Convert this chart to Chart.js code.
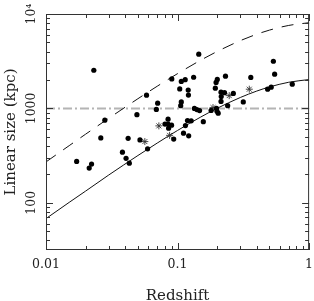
<!DOCTYPE html>
<html>
<head>
<meta charset="utf-8">
<script src="https://cdn.jsdelivr.net/npm/chart.js@4.4.1/dist/chart.umd.min.js"></script>
<style>
  html, body { margin: 0; padding: 0; background: #fff; }
  #wrap { width: 314px; height: 301px; }
</style>
</head>
<body>
<div id="wrap"><canvas id="chart" width="314" height="301"></canvas></div>
<script>
// Linear size vs redshift

// filled dots
const dotZ = [0.0231, 0.0280, 0.0261, 0.0421, 0.0381, 0.0406, 0.0430, 0.0171, 0.0222, 0.0213,
    0.0592, 0.0581, 0.0706, 0.0690, 0.0491, 0.0518,
    0.145, 0.0904, 0.1068, 0.1143, 0.1325, 0.1039, 0.1205, 0.121, 0.1068, 0.1057, 0.1343, 0.1403, 0.147,
    0.0802, 0.0847, 0.0847, 0.0901, 0.0855, 0.0935, 0.111, 0.1215, 0.1148, 0.119, 0.127, 0.157,
    0.180, 0.1977, 0.1995, 0.2037, 0.1937, 0.1963, 0.2005, 0.2314, 0.214, 0.2275, 0.2148, 0.214,
    0.2404, 0.2655, 0.316, 0.3605, 0.484, 0.515, 0.535, 0.547, 0.745];
const dotL = [2535, 750, 487, 482, 344, 296, 263, 274, 257, 233,
    373, 1380, 1135, 976, 858, 464,
    3756, 2051, 1931, 2013, 2138, 1608, 1562, 1383, 1172, 1068, 1000, 971, 948,
    682, 769, 682, 664, 617, 473, 547, 512, 658, 743, 738, 723,
    952, 1000, 930, 890, 1636, 1884, 2027, 2197, 1484, 1466, 1333, 1186,
    1068, 1442, 1172, 2128, 1600, 1680, 3159, 2306, 1804];

// asterisks
const starZ = [0.0564, 0.0721, 0.0870, 0.186, 0.247, 0.351];
const starL = [445, 653, 518, 1020, 1366, 1597];

// model curves
const curveZ = [0.01, 0.015, 0.02, 0.03, 0.05, 0.07, 0.1, 0.15, 0.2, 0.3, 0.4, 0.5, 0.7, 1];
const solidL = [68, 101, 133, 197, 317, 429, 584, 810, 1002, 1305, 1526, 1688, 1892, 2021];
const dashedL = [271, 403, 533, 786, 1267, 1716, 2335, 3240, 4008, 5220, 6104, 6752, 7568, 8084];

// 1 Mpc reference line
const refZ = [0.01, 1];
const refL = [1000, 1000];

// axes
const xMajor = [0.01, 0.1, 1];
const xLabels = ['0.01', '0.1', '1'];
const xMinor = [0.02, 0.03, 0.04, 0.05, 0.06, 0.07, 0.08, 0.09, 0.2, 0.3, 0.4, 0.5, 0.6, 0.7, 0.8, 0.9];
const yMajor = [100, 1000, 10000];
const yLabels = ['100', '1000', '10⁴'];
const yMinor = [40, 50, 60, 70, 80, 90, 200, 300, 400, 500, 600, 700, 800, 900,
    2000, 3000, 4000, 5000, 6000, 7000, 8000, 9000];

const FONT = '"DejaVu Serif", "Liberation Serif", serif';
const INK = '#222';

const toPoints = (xs, ys) => xs.map((x, i) => ({ x, y: ys[i] }));

// frame with inward ticks on all four sides, plus tick labels
const frameTicks = {
    id: 'frameTicks',
    afterDatasetsDraw(chart) {
        const { ctx, chartArea: a, scales: { x, y } } = chart;
        ctx.save();
        ctx.strokeStyle = '#333';
        ctx.lineWidth = 1;
        ctx.strokeRect(a.left + 0.5, a.top + 0.5, a.right - a.left - 1, a.bottom - a.top - 1);

        const xTick = (v, len) => {
            const px = Math.round(x.getPixelForValue(v)) + 0.5;
            ctx.beginPath();
            ctx.moveTo(px, a.bottom);
            ctx.lineTo(px, a.bottom - len);
            ctx.moveTo(px, a.top);
            ctx.lineTo(px, a.top + len);
            ctx.stroke();
        };
        const yTick = (v, len) => {
            const py = Math.round(y.getPixelForValue(v)) + 0.5;
            ctx.beginPath();
            ctx.moveTo(a.left, py);
            ctx.lineTo(a.left + len, py);
            ctx.moveTo(a.right, py);
            ctx.lineTo(a.right - len, py);
            ctx.stroke();
        };
        xMinor.forEach(v => xTick(v, 4));
        xMajor.forEach(v => xTick(v, 7));
        yMinor.forEach(v => yTick(v, 4));
        yMajor.forEach(v => yTick(v, 7));

        ctx.fillStyle = INK;
        ctx.font = '12.5px ' + FONT;
        ctx.textAlign = 'center';
        ctx.textBaseline = 'middle';
        xMajor.forEach((v, i) => {
            ctx.fillText(xLabels[i], x.getPixelForValue(v), a.bottom + 15);
        });
        yMajor.forEach((v, i) => {
            ctx.save();
            ctx.translate(a.left - 14, y.getPixelForValue(v));
            ctx.rotate(-Math.PI / 2);
            ctx.fillText(yLabels[i], 0, 0);
            ctx.restore();
        });
        ctx.restore();
    }
};

const ctx = document.getElementById('chart').getContext('2d');

new Chart(ctx, {
    type: 'scatter',
    data: {
        datasets: [
            {
                label: 'sources',
                data: toPoints(dotZ, dotL),
                pointRadius: 2.6,
                pointBorderWidth: 0,
                backgroundColor: '#000',
                borderColor: '#000'
            },
            {
                label: 'asterisks',
                data: toPoints(starZ, starL),
                pointStyle: 'star',
                pointRadius: 3.5,
                pointBorderWidth: 0.9,
                borderColor: '#333',
                backgroundColor: 'rgba(0,0,0,0)'
            },
            {
                label: 'solid',
                data: toPoints(curveZ, solidL),
                showLine: true,
                pointRadius: 0,
                borderColor: '#111',
                borderWidth: 1,
                cubicInterpolationMode: 'monotone'
            },
            {
                label: 'dashed',
                data: toPoints(curveZ, dashedL),
                showLine: true,
                pointRadius: 0,
                borderColor: '#111',
                borderWidth: 1,
                borderDash: [12, 9],
                cubicInterpolationMode: 'monotone'
            },
            {
                label: '1 Mpc',
                data: toPoints(refZ, refL),
                showLine: true,
                pointRadius: 0,
                borderColor: '#b4b4b4',
                borderWidth: 2,
                borderDash: [9, 3, 2, 3]
            }
        ]
    },
    options: {
        responsive: false,
        animation: false,
        layout: { padding: { top: 14, right: 3, left: 0, bottom: 0 } },
        plugins: {
            legend: { display: false },
            tooltip: { enabled: false }
        },
        scales: {
            x: {
                type: 'logarithmic',
                min: 0.01,
                max: 1,
                grid: { display: false },
                border: { display: false },
                ticks: { display: false },
                title: {
                    display: true,
                    text: 'Redshift',
                    color: INK,
                    font: { family: FONT, size: 15, lineHeight: 1 },
                    padding: { top: 0, bottom: -2.5 }
                },
                afterFit: scale => { scale.height = 51; }
            },
            y: {
                type: 'logarithmic',
                min: 31.62,
                max: 10000,
                grid: { display: false },
                border: { display: false },
                ticks: { display: false },
                title: {
                    display: true,
                    text: 'Linear size (kpc)',
                    color: INK,
                    font: { family: FONT, size: 15, lineHeight: 1 },
                    padding: { top: 4, bottom: 0 }
                },
                afterFit: scale => { scale.width = 46; }
            }
        }
    },
    plugins: [frameTicks]
});
</script>
</body>
</html>
